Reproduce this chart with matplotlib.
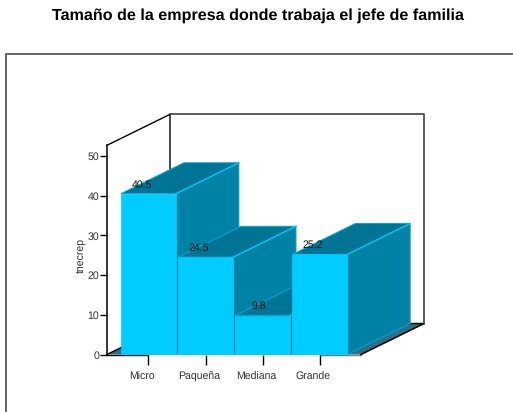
import matplotlib
matplotlib.use('Agg')
import matplotlib.pyplot as plt
from matplotlib.lines import Line2D
from matplotlib.transforms import ScaledTranslation

categorias = ['Micro', 'Paqueña', 'Mediana', 'Grande']
valores = [40.5, 24.5, 9.8, 25.2]
etiquetas = ['40.5', '24.5', '9.8', '25.2']
yticks = [0, 10, 20, 30, 40, 50]

plt.rcParams['font.family'] = ['Liberation Sans', 'DejaVu Sans']
plt.rcParams['text.hinting'] = 'none'

W, H = 513, 412
fig = plt.figure(figsize=(W / 100, H / 100), dpi=100)
ax = fig.add_axes([107 / W, 1 - 354.5 / H, 254 / W, 209.2 / H])
ax.set_xlim(-0.725, 3.723)
ax.set_ylim(0, 52.7)
ax.patch.set_visible(False)

# profundidad del efecto 3D, en unidades de los ejes
dx, dy = 1.103, 7.8
x0, x1 = ax.get_xlim()
y1 = ax.get_ylim()[1]
ancho = 0.963

frente = '#00CCFF'
lado = '#0081A6'
arriba = '#007494'
suelo = '#2A6F8A'

# suelo y pared del fondo
ax.fill([x0, x1, x1 + dx, x0 + dx], [0, 0, dy, dy], fc=suelo, ec='none', clip_on=False, zorder=1)
ax.plot([x0, 0], [0, 0], color='black', lw=1, clip_on=False, zorder=1)
ax.plot([3, x1], [0, 0], color='#777777', lw=1, clip_on=False, zorder=1)
ax.plot([x0, x0 + dx], [0, dy], color='black', lw=1, clip_on=False, zorder=1)
ax.plot([x1, x1 + dx, x0 + dx], [0, dy, dy], color='black', lw=1.1, clip_on=False, zorder=1)
ax.plot([x0, x0 + dx, x0 + dx], [y1, y1 + dy, dy], color='black', lw=1, clip_on=False, zorder=1)
ax.plot([x0 + dx, x1 + dx, x1 + dx], [y1 + dy, y1 + dy, dy], color='#333333', lw=1.1, clip_on=False, zorder=1)

# barras de izquierda a derecha
for i, v in enumerate(valores):
    a = i - ancho / 2
    b = i + ancho / 2
    z = 2 + i
    ax.fill([b, b + dx, b + dx, b], [0, dy, v + dy, v], fc=lado, ec='#00A9D6', lw=0.7, clip_on=False, zorder=z)
    ax.fill([a, b, b + dx, a + dx], [v, v, v + dy, v + dy], fc=arriba, ec='#00A9D6', lw=0.7, clip_on=False, zorder=z)
    ax.plot([b, b + dx], [v, v + dy], color='#00C4F5', lw=1, clip_on=False, zorder=z)
    ax.bar(i, v, width=ancho, color=frente, edgecolor=frente, linewidth=0.5, zorder=z)
    ax.text(i + 0.06, v + 2.3, etiquetas[i], ha='right', va='center', fontsize=7.6, color='#111111', zorder=20)

for s in ['top', 'right', 'bottom']:
    ax.spines[s].set_visible(False)
ax.spines['left'].set_linewidth(1.1)
ax.spines['left'].set_zorder(1.5)

ax.set_yticks(yticks)
ax.set_xticks(range(len(categorias)))
ax.set_xticklabels(categorias)
ax.tick_params(axis='y', length=5, width=1, pad=0.5, labelsize=7.6, labelcolor='#333333')
ax.tick_params(axis='x', length=7.5, width=1, pad=10.8, labelsize=7.6, labelcolor='#333333')
desplaza = ScaledTranslation(-6.5 / 100, 0, fig.dpi_scale_trans)
for lab in ax.get_xticklabels():
    lab.set_transform(lab.get_transform() + desplaza)
    lab.set_verticalalignment('baseline')
ax.set_ylabel('tnecrep', fontsize=7.6, color='#333333', labelpad=1, y=0.475)

# marco exterior, abierto por la derecha y abajo
fig.add_artist(Line2D([6 / W, 6 / W, 1], [0, 1 - 53.7 / H, 1 - 53.7 / H], color='#666666', lw=1.4))

fig.text(258 / W, 1 - 15.5 / H, 'Tamaño de la empresa donde trabaja el jefe de familia',
         ha='center', va='center', fontsize=11.6, fontweight='bold')

fig.savefig('out.png', dpi=100)
